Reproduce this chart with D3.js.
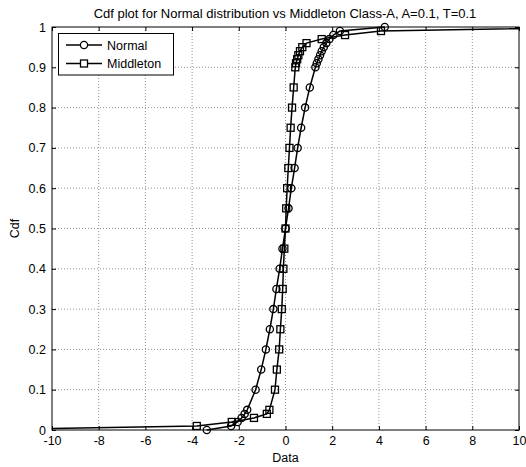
<!DOCTYPE html>
<html>
<head>
<meta charset="utf-8">
<script src="https://cdn.jsdelivr.net/npm/d3@7"></script>
<style>
  body { margin: 0; background: #fff; }
  text { font-family: "Liberation Sans", Arial, sans-serif; fill: #000; }
</style>
</head>
<body>
<svg id="chart" width="526" height="467"></svg>
<script>
// cdf levels shared by both series (percentile points, plus min / max sample)
var cdfLevels = [0, 0.01, 0.02, 0.03, 0.04, 0.05, 0.1, 0.15, 0.2, 0.25, 0.3, 0.35, 0.4, 0.45, 0.5,
                 0.55, 0.6, 0.65, 0.7, 0.75, 0.8, 0.85, 0.9, 0.91, 0.92, 0.93, 0.94, 0.95, 0.96,
                 0.97, 0.98, 0.99, 1];

var normalX = [-3.37, -2.33, -2.05, -1.88, -1.75, -1.64, -1.28, -1.04, -0.84, -0.67, -0.52, -0.39,
               -0.25, -0.13, 0.0, 0.13, 0.25, 0.39, 0.52, 0.67, 0.84, 1.04, 1.28, 1.34, 1.41, 1.48,
               1.55, 1.64, 1.75, 1.88, 2.05, 2.33, 4.25];

var middletonX = [-14, -3.8, -2.3, -1.35, -0.8, -0.69, -0.45, -0.37, -0.27, -0.22, -0.16, -0.12,
                  -0.09, -0.05, 0.0, 0.03, 0.07, 0.12, 0.17, 0.22, 0.28, 0.35, 0.42, 0.45, 0.5,
                  0.55, 0.62, 0.72, 0.9, 1.55, 2.55, 4.09, 14];

var xTicks = [-10, -8, -6, -4, -2, 0, 2, 4, 6, 8, 10];
var yTicks = [0, 0.1, 0.2, 0.3, 0.4, 0.5, 0.6, 0.7, 0.8, 0.9, 1];

var titleText = "Cdf plot for Normal distribution vs Middleton Class-A, A=0.1, T=0.1";

var svg = d3.select("#chart");
var plotLeft = 52, plotRight = 519, plotTop = 27, plotBottom = 430;
var fontSize = "12.5px";

var x = d3.scaleLinear().domain([-10, 10]).range([plotLeft, plotRight]);
var y = d3.scaleLinear().domain([0, 1]).range([plotBottom, plotTop]);

svg.append("defs").append("clipPath").attr("id", "plotClip")
    .append("rect").attr("x", plotLeft).attr("y", plotTop - 6)
    .attr("width", plotRight - plotLeft).attr("height", plotBottom - plotTop + 12);

// grid
var grid = svg.append("g");
grid.selectAll("line.gx").data(xTicks.slice(1, -1)).enter().append("line")
    .attr("x1", function (d) { return x(d); }).attr("x2", function (d) { return x(d); })
    .attr("y1", plotTop).attr("y2", plotBottom)
    .attr("stroke", "#777").attr("stroke-width", 0.8).attr("stroke-dasharray", "1,2");
grid.selectAll("line.gy").data(yTicks.slice(1, -1)).enter().append("line")
    .attr("x1", plotLeft).attr("x2", plotRight)
    .attr("y1", function (d) { return y(d); }).attr("y2", function (d) { return y(d); })
    .attr("stroke", "#777").attr("stroke-width", 0.8).attr("stroke-dasharray", "1,2");

// axes, ticks inside, on all four sides
var plainFmt = function (d) { return String(d); };
var xAxisB = d3.axisBottom(x).tickValues(xTicks).tickSize(-4).tickPadding(6).tickFormat(plainFmt);
var xAxisT = d3.axisTop(x).tickValues(xTicks).tickSize(-4).tickFormat("");
var yAxisL = d3.axisLeft(y).tickValues(yTicks).tickSize(-4).tickPadding(6).tickFormat(plainFmt);
var yAxisR = d3.axisRight(y).tickValues(yTicks).tickSize(-4).tickFormat("");

function styleAxis(g) {
    g.select(".domain").remove();
    g.selectAll(".tick line").attr("stroke", "#000");
    g.selectAll(".tick text").style("font-size", fontSize).attr("fill", "#000");
}
svg.append("g").attr("transform", "translate(0," + plotBottom + ")").call(xAxisB).call(styleAxis);
svg.append("g").attr("transform", "translate(0," + plotTop + ")").call(xAxisT).call(styleAxis);
svg.append("g").attr("transform", "translate(" + plotLeft + ",0)").call(yAxisL).call(styleAxis);
svg.append("g").attr("transform", "translate(" + plotRight + ",0)").call(yAxisR).call(styleAxis);
svg.append("rect").attr("x", plotLeft).attr("y", plotTop)
    .attr("width", plotRight - plotLeft).attr("height", plotBottom - plotTop)
    .attr("fill", "none").attr("stroke", "#000").attr("stroke-width", 1);

// series
function toPoints(xs) {
    return xs.map(function (v, i) { return { x: v, y: cdfLevels[i] }; });
}
var line = d3.line().x(function (d) { return x(d.x); }).y(function (d) { return y(d.y); });
var plot = svg.append("g").attr("clip-path", "url(#plotClip)");

var normalPts = toPoints(normalX);
var middletonPts = toPoints(middletonX);

plot.append("path").datum(normalPts).attr("d", line)
    .attr("fill", "none").attr("stroke", "#000").attr("stroke-width", 1.5);
plot.append("path").datum(middletonPts).attr("d", line)
    .attr("fill", "none").attr("stroke", "#000").attr("stroke-width", 1.5);

var inside = function (d) { return d.x >= -10 && d.x <= 10; };
plot.selectAll("circle.n").data(normalPts.filter(inside)).enter().append("circle")
    .attr("cx", function (d) { return x(d.x); }).attr("cy", function (d) { return y(d.y); })
    .attr("r", 3.6).attr("fill", "none").attr("stroke", "#000").attr("stroke-width", 1.3);
plot.selectAll("rect.m").data(middletonPts.filter(inside)).enter().append("rect")
    .attr("x", function (d) { return x(d.x) - 3.5; }).attr("y", function (d) { return y(d.y) - 3.5; })
    .attr("width", 7).attr("height", 7)
    .attr("fill", "none").attr("stroke", "#000").attr("stroke-width", 1.3);

// labels
svg.append("text").attr("x", 285).attr("y", 18).attr("text-anchor", "middle")
    .style("font-size", "13px").text(titleText);
svg.append("text").attr("x", x(0)).attr("y", 462).attr("text-anchor", "middle")
    .style("font-size", fontSize).text("Data");
svg.append("text").attr("transform", "translate(19," + y(0.5) + ") rotate(-90)")
    .attr("text-anchor", "middle").style("font-size", fontSize).text("Cdf");

// legend
var legend = svg.append("g");
legend.append("rect").attr("x", 58.5).attr("y", 33.5).attr("width", 115).attr("height", 41.5)
    .attr("fill", "#fff").attr("stroke", "#000").attr("stroke-width", 1);
var legendItems = [{ name: "Normal", shape: "circle" }, { name: "Middleton", shape: "square" }];
legendItems.forEach(function (item, i) {
    var ly = 45 + i * 18.5;
    legend.append("line").attr("x1", 66).attr("x2", 102).attr("y1", ly).attr("y2", ly)
        .attr("stroke", "#000").attr("stroke-width", 1.5);
    if (item.shape === "circle") {
        legend.append("circle").attr("cx", 84).attr("cy", ly).attr("r", 3.6)
            .attr("fill", "#fff").attr("stroke", "#000").attr("stroke-width", 1.3);
    } else {
        legend.append("rect").attr("x", 80.5).attr("y", ly - 3.5).attr("width", 7).attr("height", 7)
            .attr("fill", "#fff").attr("stroke", "#000").attr("stroke-width", 1.3);
    }
    legend.append("text").attr("x", 107).attr("y", ly + 4.5).style("font-size", fontSize).text(item.name);
});
</script>
</body>
</html>
